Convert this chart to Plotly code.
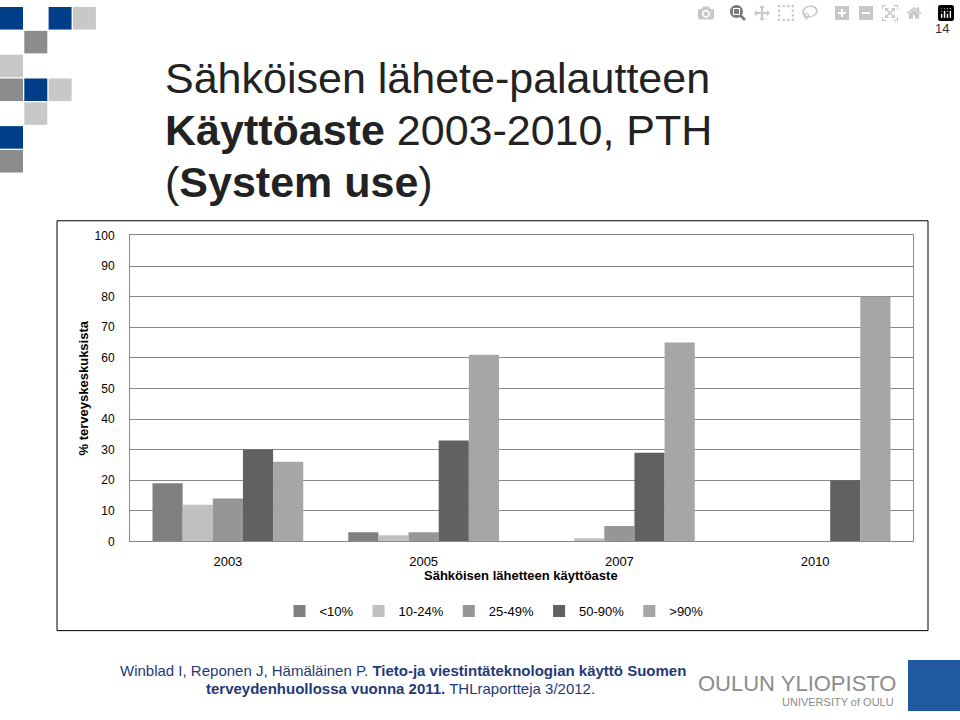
import plotly.graph_objects as go

years = ["2003", "2005", "2007", "2010"]
series = ["<10%", "10-24%", "25-49%", "50-90%", ">90%"]
v_lt10 = [19, 3, 0, 0]
v_10_24 = [12, 2, 1, 0]
v_25_49 = [14, 3, 5, 0]
v_50_90 = [30, 33, 29, 20]
v_gt90 = [26, 61, 65, 80]
values = [v_lt10, v_10_24, v_25_49, v_50_90, v_gt90]
colors = ["#808080", "#c0c0c0", "#969696", "#616161", "#a6a6a6"]
yticks = [0, 10, 20, 30, 40, 50, 60, 70, 80, 90, 100]

W, H = 960, 720
def px(x): return x / W
def py(y): return 1 - y / H

fig = go.Figure()
for name, vals, c in zip(series, values, colors):
    fig.add_trace(go.Bar(x=years, y=vals, name=name, marker=dict(color=c, line=dict(width=0))))

shapes = []
BLUE, GRAY, LIGHT = "#003f87", "#8c8c8c", "#c8c8c8"
sq = [(0,0,BLUE),(0,2,BLUE),(0,3,LIGHT),(1,1,GRAY),(2,0,LIGHT),(3,0,GRAY),(3,1,BLUE),(3,2,LIGHT),
      (4,1,LIGHT),(5,0,BLUE),(6,0,GRAY)]
for r, c, col in sq:
    shapes.append(dict(type="rect", xref="paper", yref="paper", x0=px(c*24.3), x1=px(c*24.3+23),
                       y0=py(r*24.3+23), y1=py(r*24.3), fillcolor=col, line=dict(width=0)))
shapes.append(dict(type="rect", xref="paper", yref="paper", x0=px(57), x1=px(928), y0=py(636), y1=py(218),
                   line=dict(color="#000000", width=1)))
shapes.append(dict(type="rect", xref="paper", yref="paper", x0=px(908), x1=px(960), y0=py(718), y1=py(666),
                   fillcolor="#1f5aa0", line=dict(width=0)))

ann = [
    dict(text="Sähköisen lähete-palautteen", x=px(163), y=py(72), xanchor="left", yanchor="middle",
         font=dict(size=43, color="#222")),
    dict(text="<b>Käyttöaste</b> 2003-2010, PTH", x=px(163), y=py(125), xanchor="left", yanchor="middle",
         font=dict(size=43, color="#222")),
    dict(text="(<b>System use</b>)", x=px(163), y=py(178), xanchor="left", yanchor="middle",
         font=dict(size=43, color="#222")),
    dict(text="14", x=px(951), y=py(22), xanchor="right", yanchor="middle", font=dict(size=13, color="#333")),
    dict(text="<b>% terveyskeskuksista</b>", x=px(83), y=py(389), textangle=-90, xanchor="center", yanchor="middle",
         font=dict(size=13, color="#000")),
    dict(text="<b>Sähköisen lähetteen käyttöaste</b>", x=px(521), y=py(580), xanchor="center", yanchor="middle",
         font=dict(size=13, color="#000")),
    dict(text="Winblad I, Reponen J, Hämäläinen P. <b>Tieto-ja viestintäteknologian käyttö Suomen</b>",
         x=px(118), y=py(677), xanchor="left", yanchor="middle", font=dict(size=15, color="#1f3a78")),
    dict(text="<b>terveydenhuollossa vuonna 2011.</b> THLraportteja 3/2012.",
         x=px(204), y=py(695), xanchor="left", yanchor="middle", font=dict(size=15, color="#1f3a78")),
    dict(text="OULUN YLIOPISTO", x=px(898), y=py(690), xanchor="right", yanchor="middle",
         font=dict(size=22, color="#8c8c8c")),
    dict(text="UNIVERSITY of OULU", x=px(896), y=py(709), xanchor="right", yanchor="middle",
         font=dict(size=11, color="#8c8c8c")),
]
for a in ann:
    a.update(xref="paper", yref="paper", showarrow=False)

fig.update_layout(
    width=W, height=H, margin=dict(l=0, r=0, t=0, b=0),
    paper_bgcolor="white", plot_bgcolor="white",
    font=dict(family="Liberation Sans, Arial", color="#000"),
    barmode="group", bargap=0.23, bargroupgap=0.0,
    xaxis=dict(domain=[px(130), px(913)], showline=True, linecolor="#888", mirror=True,
               ticks="outside", ticklen=0, tickfont=dict(size=13), showgrid=False, ticklabelstandoff=8),
    yaxis=dict(domain=[py(545), py(233)], range=[0, 100], tickvals=yticks, showgrid=True,
               gridcolor="#888", gridwidth=1, showline=True, linecolor="#888", mirror=True,
               tickfont=dict(size=12), ticklen=0, ticks="outside", zeroline=False, ticklabelstandoff=12),
    legend=dict(orientation="h", x=px(494), y=py(616), xanchor="center", yanchor="middle",
                font=dict(size=13), itemwidth=30, traceorder="normal", tracegroupgap=0),
    shapes=shapes, annotations=ann,
)
fig.write_html("out.html", post_script="document.body.style.margin='0';")
